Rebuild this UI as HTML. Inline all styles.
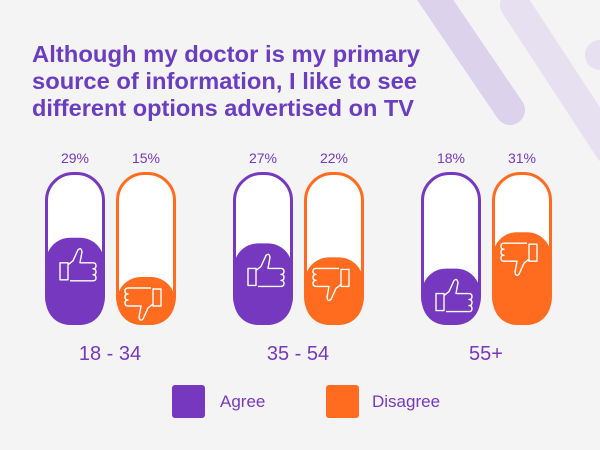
<!DOCTYPE html>
<html><head><meta charset="utf-8"><style>
body{margin:0;background:#f4f4f4;}
svg{display:block;font-family:"Liberation Sans",sans-serif;}
</style></head><body>
<svg width="600" height="450" viewBox="0 0 600 450">
<rect width="600" height="450" fill="#f4f4f4"/>
<g stroke-linecap="round">
<line x1="425" y1="-15" x2="510" y2="110" stroke="#dcd2ec" stroke-width="30"/>
<line x1="515" y1="5" x2="610" y2="150" stroke="#e6e0f0" stroke-width="30"/>
<line x1="600" y1="55" x2="640" y2="55" stroke="#e6e0f0" stroke-width="30"/>
</g>
<g fill="#6b3dc1" font-weight="bold" font-size="23.5">
<text x="32" y="62" textLength="388" lengthAdjust="spacingAndGlyphs">Although my doctor is my primary</text>
<text x="32" y="89" textLength="385" lengthAdjust="spacingAndGlyphs">source of information, I like to see</text>
<text x="32" y="116" textLength="382" lengthAdjust="spacingAndGlyphs">different options advertised on TV</text>
</g>
<g id="bars"></g>
<g>
<rect x="172" y="385" width="33" height="33" rx="3" fill="#7638bf"/>
<text x="220" y="407" font-size="17" fill="#7638bf">Agree</text>
<rect x="326" y="385" width="33" height="33" rx="3" fill="#ff6b1f"/>
<text x="372" y="407" font-size="17" fill="#7638bf">Disagree</text>
</g>
</svg>
<script>
const categories=["18 - 34","35 - 54","55+"];
const agree=[29,27,18];
const disagree=[15,22,31];
const NS="http://www.w3.org/2000/svg";
const g=document.getElementById('bars');
function mk(t,a,p){const e=document.createElementNS(NS,t);for(const k in a)e.setAttribute(k,a[k]);(p||g).appendChild(e);return e;}
const bottom=325,capTop=172,capH=153,capW=60;
function yh(v){return v*2.8+6;}
const upPath="M-15 -2 h8 v17 h-8 z M-7 0 l5 -4 l5 -11 q3 -3 4 2 l-2 11 h13 q3 0 3 3 q0 3 -3 3 q3 0 3 3 q0 3 -3 3 q3 0 3 3 q0 3 -3 3 h-23";
function bar(x,v,color,name,up){
  const grp=mk('g',{});
  
  
  const cap=mk('rect',{x:x+1.5,y:capTop+1.5,width:capW-3,height:capH-3,rx:27,fill:'#ffffff',stroke:color,'stroke-width':3},grp);
  
  
  const h=yh(v);
  const f=mk('rect',{x:x+1,y:bottom-h,width:capW-2,height:h,rx:24,fill:color},grp);
  
  
  const cy=bottom-h+27;
  const ic=mk('path',{d:upPath,fill:'none',stroke:'#fff','stroke-width':1.4,'stroke-linejoin':'round',transform:`translate(${x+capW/2},${cy})`+(up?'':' rotate(180)')},grp);
  
  
  const t=mk('text',{x:x+capW/2,y:163,'text-anchor':'middle','font-size':14,fill:'#7638bf'},grp);
  t.textContent=v+'%';
  
  
}
categories.forEach((c,i)=>{
  const x0=45+i*188;
  bar(x0,agree[i],'#7638bf','bar-agree-'+(i+1),true);
  bar(x0+71,disagree[i],'#ff6b1f','bar-disagree-'+(i+1),false);
  const t=mk('text',{x:x0+65,y:360,'text-anchor':'middle','font-size':20,fill:'#7638bf'});
  t.textContent=c;
  
  
});
</script>
</body></html>
